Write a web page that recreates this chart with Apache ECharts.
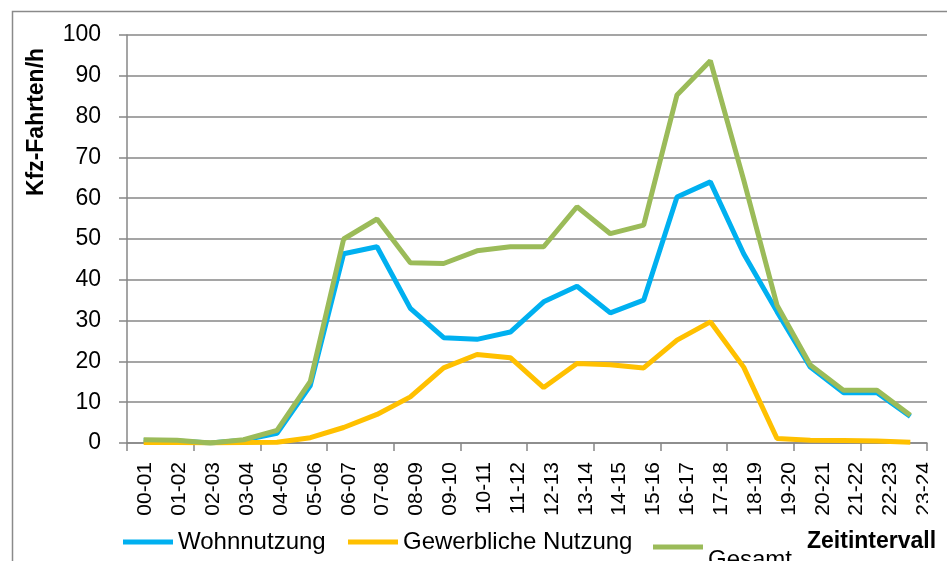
<!DOCTYPE html>
<html>
<head>
<meta charset="utf-8">
<script src="https://cdn.jsdelivr.net/npm/echarts@6/dist/echarts.min.js"></script>
<style>
html,body{margin:0;padding:0;background:#fff;}
#chart{width:947px;height:561px;}
</style>
</head>
<body>
<div id="chart"></div>
<script>
const categories = ['00-01','01-02','02-03','03-04','04-05','05-06','06-07','07-08','08-09','09-10','10-11','11-12','12-13','13-14','14-15','15-16','16-17','17-18','18-19','19-20','20-21','21-22','22-23','23-24'];
const wohnnutzung = [0.6,0.5,0,0.7,2.4,14.1,46.4,48.1,33.0,25.8,25.4,27.2,34.6,38.4,31.9,35.0,60.3,64.0,46.4,32.2,18.6,12.3,12.3,6.5];
const gewerbliche = [0.1,0.1,0,0.1,0.2,1.3,3.8,7.0,11.3,18.4,21.7,20.9,13.6,19.5,19.2,18.4,25.2,29.7,18.6,1.1,0.7,0.6,0.5,0.2];
const gesamt = [0.8,0.7,0,0.8,3.1,15.1,50.0,54.9,44.2,44.0,47.1,48.1,48.1,57.9,51.3,53.4,85.3,93.7,64.5,33.8,19.1,12.9,12.9,6.8];
const yTicks = {min:0, max:100, interval:10};
const seriesNames = ['Wohnnutzung','Gewerbliche Nutzung','Gesamt'];

const FONT = '"Liberation Sans", Arial, sans-serif';
const GRID_COLOR = '#878787';
const colors = ['#00B0F0','#FFC000','#9BBB59'];

const chart = echarts.init(document.getElementById('chart'), null, {renderer:'canvas'});

function legendFor(i, left, top, extra) {
  return Object.assign({
    show: true,
    data: [seriesNames[i]],
    left: left, top: top,
    padding: 0,
    icon: 'rect',
    itemWidth: 50, itemHeight: 5,
    itemStyle: {borderWidth: 0},
    textStyle: {fontFamily: FONT, fontSize: 24, color: '#000'},
    selectedMode: false
  }, extra || {});
}

const option = {
  backgroundColor: '#fff',
  animation: false,
  color: colors,
  grid: [
    {left: 127, top: 35, width: 800, height: 408, containLabel: false},
    {left: 128.6, top: 35, width: 812.7, height: 408, containLabel: false}
  ],
  legend: [
    legendFor(0, 123, 530),
    legendFor(1, 348, 530),
    legendFor(2, 653, 521, {
      formatter: function (name) { return '\n' + name; },
      textStyle: {fontFamily: FONT, fontSize: 24, color: '#000', lineHeight: 26}
    })
  ],
  xAxis: [
    {
      type: 'category', gridIndex: 0, data: categories, boundaryGap: true,
      axisLine: {show: true, lineStyle: {color: GRID_COLOR, width: 1.5}},
      axisTick: {show: true, length: 8, lineStyle: {color: GRID_COLOR, width: 1.5}},
      axisLabel: {show: false}
    },
    {
      type: 'category', gridIndex: 1, data: categories, boundaryGap: true,
      axisLine: {show: false}, axisTick: {show: false},
      axisLabel: {show: true, rotate: 90, interval: 0, margin: 19, fontFamily: FONT, fontSize: 21, color: '#000'}
    }
  ],
  yAxis: [
    {
      type: 'value', gridIndex: 0, min: yTicks.min, max: yTicks.max, interval: yTicks.interval,
      axisLine: {show: true, lineStyle: {color: GRID_COLOR, width: 1.5}},
      axisTick: {show: true, length: 8, lineStyle: {color: GRID_COLOR, width: 1.5}},
      splitLine: {show: true, lineStyle: {color: GRID_COLOR, width: 1.5}},
      axisLabel: {margin: 26, fontFamily: FONT, fontSize: 23, color: '#000'}
    },
    {type: 'value', gridIndex: 1, show: false, min: 0, max: 100}
  ],
  series: [
    {name: seriesNames[0], type: 'line', data: wohnnutzung, xAxisIndex: 0, yAxisIndex: 0, symbol: 'none', lineStyle: {width: 5, color: colors[0]}, itemStyle:{color: colors[0]}, z: 2},
    {name: seriesNames[1], type: 'line', data: gewerbliche, xAxisIndex: 0, yAxisIndex: 0, symbol: 'none', lineStyle: {width: 5, color: colors[1]}, itemStyle:{color: colors[1]}, z: 3},
    {name: seriesNames[2], type: 'line', data: gesamt, xAxisIndex: 0, yAxisIndex: 0, symbol: 'none', lineStyle: {width: 5, color: colors[2]}, itemStyle:{color: colors[2]}, z: 4}
  ],
  graphic: [
    {type: 'rect', left: 10, top: 9, shape: {x: 0, y: 0, width: 960, height: 580}, style: {fill: 'none', stroke: '#8a8a8a', lineWidth: 1.5}, silent: true, z: -10},
    {type: 'rect', shape: {x: 928, y: 452, width: 19, height: 70}, style: {fill: '#fff'}, silent: true, z: 100},
    {type: 'text', x: 37, y: 122, rotation: Math.PI/2, style: {text: 'Kfz-Fahrten/h', font: 'bold 23px ' + FONT, fill: '#000', align: 'center', verticalAlign: 'middle'}, z: 10},
    {type: 'text', x: 807, y: 542, style: {text: 'Zeitintervall', font: 'bold 23px ' + FONT, fill: '#000', align: 'left', verticalAlign: 'middle'}, z: 10}
  ]
};
chart.setOption(option);
</script>
</body>
</html>
